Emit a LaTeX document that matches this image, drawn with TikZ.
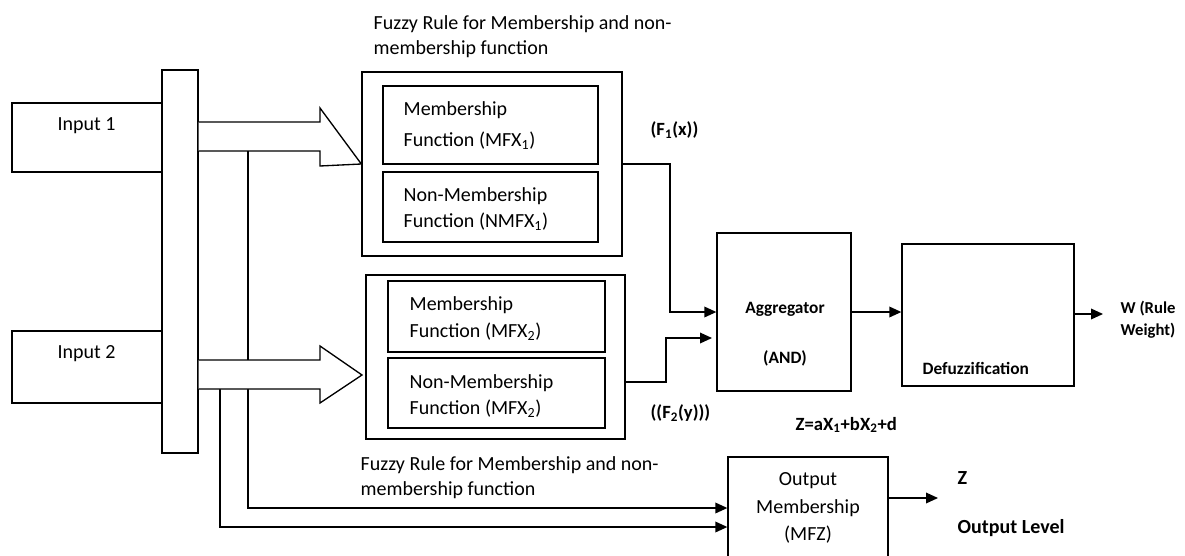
\documentclass[tikz,border=0pt]{standalone}
\usepackage{fontspec}
\setmainfont{Carlito}
\usetikzlibrary{arrows.meta,fit}
\begin{document}
\begin{tikzpicture}[x=0.75pt,y=-0.75pt,line width=1pt,
    box/.style={draw,inner sep=0pt},
    txt/.style={anchor=west,inner sep=0pt,font=\fontsize{15}{18}\selectfont},
    btxt/.style={anchor=west,inner sep=0pt,font=\fontsize{13}{18}\selectfont\bfseries},
    arr/.style={-{Triangle[length=9pt,width=8pt]}}]
    \useasboundingbox (0,0) rectangle (1185,556);
    % inputs and bus
    \node[box,fit={(12,103) (162,172)}] (inone) {};
    \node[box,fit={(12,331) (162,403)}] (intwo) {};
    \node[box,fit={(162,70) (198,453)}] (bus) {};
    \node[txt] (inonetxt) at (57,126) {Input 1};
    \node[txt] (intwotxt) at (57,354) {Input 2};
    % fuzzy rule blocks
    \node[box,fit={(362,72) (622,256)}] (ruleone) {};
    \node[box,fit={(383,86) (598,164)}] (mfone) {};
    \node[box,fit={(383,172) (598,242)}] (nmfone) {};
    \node[box,fit={(366,275) (625,439)}] (ruletwo) {};
    \node[box,fit={(388,281) (605,352)}] (mftwo) {};
    \node[box,fit={(388,358) (605,428)}] (nmftwo) {};
    \node[txt] (mfonea) at (403,110) {Membership};
    \node[txt] (mfoneb) at (403,141) {Function (MFX\textsubscript{1})};
    \node[txt] (nmfonea) at (403,196) {Non-Membership};
    \node[txt] (nmfoneb) at (403,222) {Function (NMFX\textsubscript{1})};
    \node[txt] (mftwoa) at (409,305) {Membership};
    \node[txt] (mftwob) at (409,332) {Function (MFX\textsubscript{2})};
    \node[txt] (nmftwoa) at (409,383) {Non-Membership};
    \node[txt] (nmftwob) at (409,409) {Function (MFX\textsubscript{2})};
    \node[txt] (ruleonelbl) at (373,24) {Fuzzy Rule for Membership and non-};
    \node[txt] (ruleonelblb) at (373,49) {membership function};
    \node[txt] (ruletwolbl) at (360,465) {Fuzzy Rule for Membership and non-};
    \node[txt] (ruletwolblb) at (360,490) {membership function};
    % aggregator, defuzzification, output
    \node[box,fit={(717,233) (851,391)}] (agg) {};
    \node[box,fit={(902,244) (1074,386)}] (defuz) {};
    \node[box,fit={(728,457) (888,580)}] (outmf) {};
    \node[btxt,anchor=center] (aggtxt) at (785,309) {Aggregator};
    \node[btxt,anchor=center] (andtxt) at (785,358) {(AND)};
    \node[btxt] (defuztxt) at (922,368) {Defuzzification};
    \node[txt,anchor=center] (outa) at (808,481) {Output};
    \node[txt,anchor=center] (outb) at (808,508) {Membership};
    \node[txt,anchor=center] (outc) at (808,535) {(MFZ)};
    \node[btxt,font=\fontsize{14}{18}\selectfont\bfseries] (fone) at (650,130) {(F\textsubscript{1}(x))};
    \node[btxt,font=\fontsize{14}{18}\selectfont\bfseries] (ftwo) at (650,413) {((F\textsubscript{2}(y)))};
    \node[btxt,font=\fontsize{14}{18}\selectfont\bfseries] (zeq) at (795,425) {Z=aX\textsubscript{1}+bX\textsubscript{2}+d};
    \node[btxt,align=left,anchor=north west,font=\fontsize{12.5}{17}\selectfont\bfseries] (wlbl) at (1120,300) {W (Rule\\Weight)};
    \node[btxt,font=\fontsize{15}{18}\selectfont\bfseries] (zlbl) at (957,478) {Z};
    \node[btxt,font=\fontsize{15}{18}\selectfont\bfseries] (levlbl) at (957,528) {Output Level};
    \coordinate (wend) at (1103,314);
    \coordinate (zend) at (938,498);
    \coordinate (ftwoend) at (712,338);
    % feed lines to output membership
    \draw[arr] (248,151) -- (248,508) -- (outmf.west |- 0,508);
    \draw[arr] (220,389) -- (220,527) -- (outmf.west |- 0,527);
    % block arrows
    \draw[fill=white] (bus.east |- 0,122) -- (320,122) -- (320,108) -- (ruleone.west) -- (320,166) -- (320,151) -- (bus.east |- 0,151);
    \draw[fill=white] (bus.east |- 0,360) -- (320,360) -- (320,346) -- (362,375) -- (320,403) -- (320,389) -- (bus.east |- 0,389);
    % connectors
    \draw[arr] (ruleone.east) -| (670,312) -- (agg.west);
    \draw[arr] (ruletwo.east |- 0,382) -| (666,338) -- (ftwoend);
    \draw[arr] (agg.east) -- (agg.east -| defuz.west);
    \draw[arr] (defuz.east |- wend) -- (wend);
    \draw[arr] (outmf.east |- zend) -- (zend);
\end{tikzpicture}
\end{document}
